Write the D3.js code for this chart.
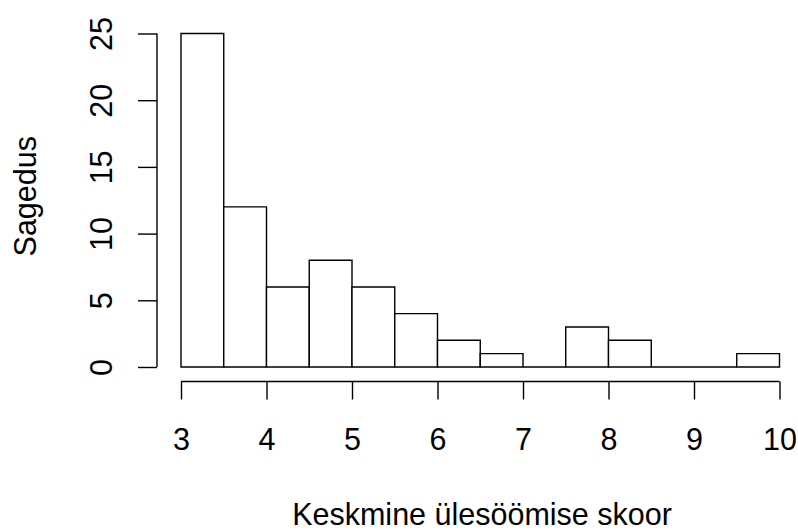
<!DOCTYPE html>
<html lang="et">
<head>
<meta charset="UTF-8">
<title>Histogramm</title>
<script src="https://d3js.org/d3.v7.min.js"></script>
<style>
  body { margin: 0; background: #fff; }
  svg { display: block; }
  text { font-family: "Liberation Sans", Arial, sans-serif; fill: #000; }
</style>
</head>
<body>
<div id="chart"></div>
<script>
// bin edges and counts
const binStarts = [3, 3.5, 4, 4.5, 5, 5.5, 6, 6.5, 7, 7.5, 8, 8.5, 9, 9.5];
const binWidth = 0.5;
const counts = [25, 12, 6, 8, 6, 4, 2, 1, 0, 3, 2, 0, 0, 1];
const xTicks = [3, 4, 5, 6, 7, 8, 9, 10];
const yTicks = [0, 5, 10, 15, 20, 25];
const xTitle = "Keskmine ülesöömise skoor";
const yTitle = "Sagedus";

const W = 798, H = 531;
const fontSize = 30.5;

const svg = d3.select("#chart").append("svg")
    .attr("width", W)
    .attr("height", H);

const x = d3.scaleLinear().domain([3, 10]).range([181, 779.5]);
const y = d3.scaleLinear().domain([0, 25]).range([367, 33.5]);

// bars as closed paths so empty bins still show a line on the baseline
svg.append("g").selectAll("path")
    .data(binStarts.map((s, i) => ({start: s, n: counts[i]})))
    .enter().append("path")
    .attr("d", d => {
        const x0 = x(d.start), x1 = x(d.start + binWidth);
        return `M${x0},${y(0)}V${y(d.n)}H${x1}V${y(0)}Z`;
    })
    .attr("fill", "#fff")
    .attr("stroke", "#000")
    .attr("stroke-width", 1.4);

// x axis
const gx = svg.append("g")
    .attr("transform", "translate(0,381.5)")
    .call(d3.axisBottom(x).tickValues(xTicks).tickSize(18).tickSizeOuter(0).tickFormat(d3.format("d")));
gx.selectAll("path, line").attr("stroke", "#000").attr("stroke-width", 1.4);
gx.selectAll("text")
    .attr("y", 0).attr("dy", null)
    .attr("transform", "translate(0,68.5)")
    .style("font-size", fontSize + "px")
    .style("font-family", "Liberation Sans, Arial, sans-serif")
    .attr("fill", "#000");
gx.select(".domain").attr("d", `M${x(3)},0H${x(10)}`);

// y axis
const gy = svg.append("g")
    .attr("transform", "translate(157,0)")
    .call(d3.axisLeft(y).tickValues(yTicks).tickSize(19).tickSizeOuter(0));
gy.selectAll("path, line").attr("stroke", "#000").attr("stroke-width", 1.4);
gy.select(".domain").attr("d", `M0,${y(0)}V${y(25)}`);
gy.selectAll("text")
    .attr("x", 0).attr("dy", null)
    .attr("text-anchor", "middle")
    .attr("transform", "translate(-45,0) rotate(-90)")
    .style("font-size", fontSize + "px")
    .style("font-family", "Liberation Sans, Arial, sans-serif")
    .attr("fill", "#000");

// titles
svg.append("text")
    .attr("x", 482)
    .attr("y", 525)
    .attr("text-anchor", "middle")
    .style("font-size", fontSize + "px")
    .text(xTitle);

svg.append("text")
    .attr("transform", `translate(36,${y(12.5) - 4}) rotate(-90)`)
    .attr("text-anchor", "middle")
    .style("font-size", fontSize + "px")
    .text(yTitle);
</script>
</body>
</html>
